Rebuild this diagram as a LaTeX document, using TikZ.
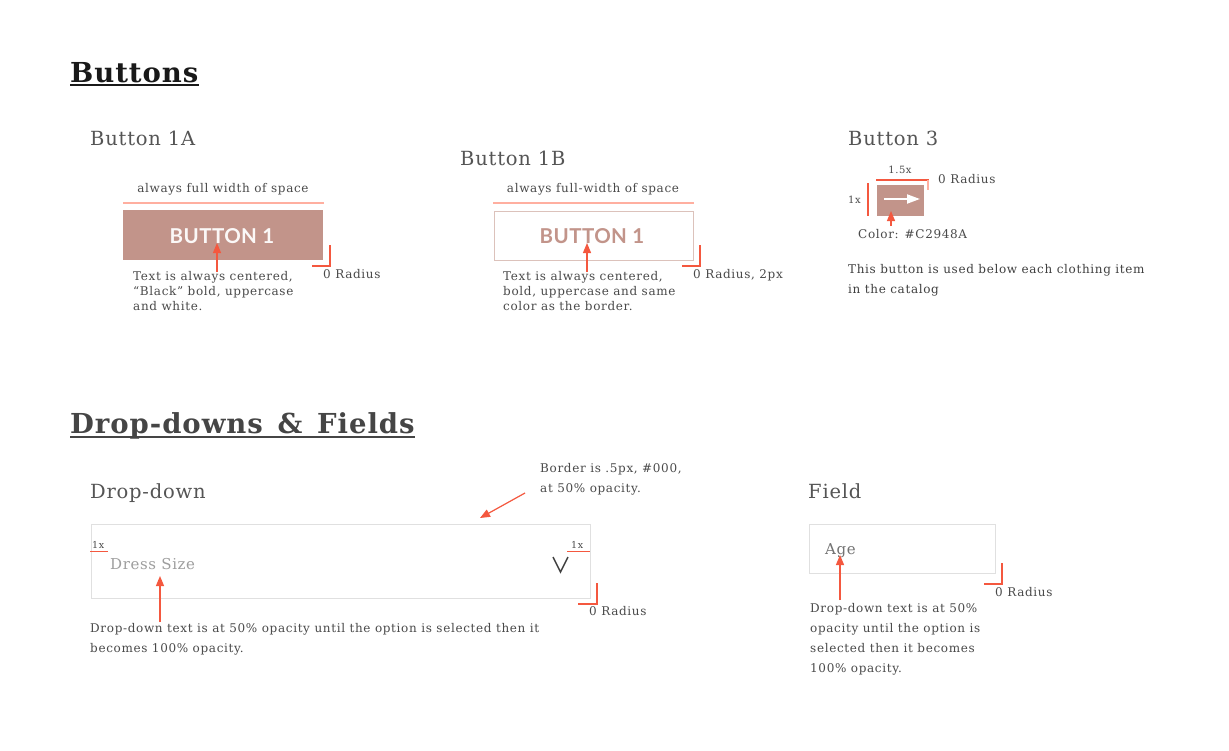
\documentclass[tikz,border=0pt]{standalone}
\usepackage{fontspec}
\setmainfont{DejaVu Serif}
\newfontfamily\latofont[LetterSpace=2]{Lato}
\newfontfamily\notefont[LetterSpace=5.5]{DejaVu Serif}
\newfontfamily\headfont[LetterSpace=4]{DejaVu Serif}
\newfontfamily\titlefont[LetterSpace=3.5,WordSpace=1.4]{DejaVu Serif}
\usetikzlibrary{arrows.meta}
\definecolor{rose}{HTML}{C2948A}
\definecolor{roseline}{HTML}{DCC2BB}
\definecolor{salmon}{HTML}{FFAFA0}
\definecolor{redmark}{HTML}{F4583F}
\definecolor{txt}{HTML}{4A4A4A}
\definecolor{head}{HTML}{555555}
\definecolor{fieldline}{HTML}{E0E0E0}
\tikzset{
  title/.style={anchor=base west, inner sep=0, font=\titlefont\fontsize{27.5}{30}\selectfont\bfseries},
  subhead/.style={anchor=base west, inner sep=0, text=head, font=\headfont\fontsize{19.5}{22}\selectfont},
  note/.style={anchor=base west, inner sep=0, text=txt, font=\notefont\fontsize{12}{14}\selectfont},
  small/.style={anchor=base west, inner sep=0, text=txt, font=\notefont\fontsize{10}{12}\selectfont},
  pointer/.style={draw=redmark, line width=1.2pt, -{Triangle[length=10pt,width=8pt]}},
  redrule/.style={draw=redmark, line width=1.2pt},
  widthline/.style={draw=salmon, line width=2pt},
}
\newcommand{\txtline}[4]{\node[note] (#1) at (#2,#3) {#4};}
\begin{document}
\begin{tikzpicture}[x=1pt,y=-1pt]
\useasboundingbox[fill=white] (0,0) rectangle (1229,750);

% ---------- Titles ----------
\node[title, text=black!90] (t1) at (70,82) {Buttons};
\draw[black!90, line width=2pt] (t1.base west) ++(0,3) coordinate (u1a) -- (t1.base east |- u1a);
\node[title, text=black!73] (t2) at (70,433) {Drop-downs \& Fields};
\draw[black!73, line width=2pt] (t2.base west) ++(0,4) coordinate (u2a) -- (t2.base east |- u2a);

% ---------- Button 1A ----------
\node[subhead] (h1a) at (90,145) {Button 1A};
\node[note, anchor=base] (w1a) at (223,192) {always full width of space};
\coordinate (w1al) at (123,203); \coordinate (w1ar) at (324,203);
\draw[widthline] (w1al) -- (w1ar);
\node[fill=rose, minimum width=200pt, minimum height=50pt, inner sep=0, anchor=north west] (b1a) at (123,210) {};
\node[text=white!93!rose, font=\latofont\bfseries\fontsize{20.5}{22}\selectfont, inner sep=0] (b1atext) at (222,236) {BUTTON 1};
\coordinate (p1a) at (217,272);
\draw[pointer] (p1a) -- (217,243) coordinate (p1ae);
\coordinate (r1a) at (330,245);
\draw[redrule] (r1a) -- (330,266) -- (312,266);
\node[note] (r1at) at (323,278) {0 Radius};
\txtline{d1a1}{133}{280}{Text is always centered,}
\txtline{d1a2}{133}{295}{“Black” bold, uppercase}
\txtline{d1a3}{133}{310}{and white.}

% ---------- Button 1B ----------
\node[subhead] (h1b) at (460,165) {Button 1B};
\node[note, anchor=base] (w1b) at (593,192) {always full-width of space};
\coordinate (w1bl) at (493,203); \coordinate (w1br) at (694,203);
\draw[widthline] (w1bl) -- (w1br);
\node[draw=roseline, line width=1.6pt, minimum width=199pt, minimum height=49pt, inner sep=0, anchor=north west] (b1b) at (493.5,210.5) {};
\node[text=rose, font=\latofont\bfseries\fontsize{20.5}{22}\selectfont, inner sep=0] (b1btext) at (592,236) {BUTTON 1};
\coordinate (p1b) at (587,272);
\draw[pointer] (p1b) -- (587,243) coordinate (p1be);
\coordinate (r1b) at (700,245);
\draw[redrule] (r1b) -- (700,266) -- (682,266);
\node[note] (r1bt) at (693,278) {0 Radius, 2px};
\txtline{d1b1}{503}{280}{Text is always centered,}
\txtline{d1b2}{503}{295}{bold, uppercase and same}
\txtline{d1b3}{503}{310}{color as the border.}

% ---------- Button 3 ----------
\node[subhead] (h3) at (848,145) {Button 3};
\node[small, anchor=base] (w3) at (900,173) {1.5x};
\coordinate (w3l) at (876,180); \coordinate (w3r) at (929,180);
\draw[redrule] (w3l) -- (w3r);
\draw[draw=salmon, line width=1.6pt] (928,180) -- (928,190);
\node[note] (r3t) at (938,183) {0 Radius};
\node[small] (h3x) at (848,203) {1x};
\coordinate (v3t) at (868,183); \coordinate (v3b) at (868,216);
\draw[redrule] (v3t) -- (v3b);
\node[fill=rose, minimum width=47pt, minimum height=31pt, inner sep=0, anchor=north west] (b3) at (877,185) {};
\coordinate (a3s) at (884,199); \coordinate (a3e) at (920,199);
\draw[white, line width=2pt, -{Triangle[length=13pt,width=9pt]}] (a3s) -- (a3e);
\coordinate (p3) at (891,226);
\draw[pointer] (p3) -- (891,211) coordinate (p3e);
\node[note] (c3) at (858,238) {Color: \#C2948A};
\node[note, text=black!75] (d31) at (848,273) {This button is used below each clothing item};
\node[note, text=black!75] (d32) at (848,293) {in the catalog};

% ---------- Drop-down ----------
\node[subhead] (hdd) at (90,498) {Drop-down};
\node[draw=fieldline, line width=1.5pt, minimum width=499pt, minimum height=74pt, inner sep=0, anchor=north west] (dd) at (90.5,523.5) {};
\node[small, font=\notefont\fontsize{9.5}{11}\selectfont] (ddx1) at (92,548) {1x};
\coordinate (ddu1l) at (90,551); \coordinate (ddu1r) at (108,551);
\draw[redrule, line width=1pt] (ddu1l) -- (ddu1r);
\node[small, font=\notefont\fontsize{9.5}{11}\selectfont] (ddx2) at (571,548) {1x};
\coordinate (ddu2l) at (567,551); \coordinate (ddu2r) at (590,551);
\draw[redrule, line width=1pt] (ddu2l) -- (ddu2r);
\node[anchor=base west, inner sep=0, text=black!38, font=\headfont\fontsize{15}{18}\selectfont] (dds) at (110,569) {Dress Size};
\coordinate (chl) at (553,557); \coordinate (chm) at (560.5,572); \coordinate (chr) at (568,557);
\draw[black!75, line width=1.5pt] (chl) -- (chm) -- (chr);
\coordinate (pdd) at (160,622);
\draw[pointer] (pdd) -- (160,576) coordinate (pdde);
\coordinate (rdd) at (597,583);
\draw[redrule] (rdd) -- (597,604) -- (578,604);
\node[note] (rddt) at (589,615) {0 Radius};
\node[note] (bdd1) at (540,472) {Border is .5px, \#000,};
\node[note] (bdd2) at (540,492) {at 50\% opacity.};
\coordinate (bdds) at (525,493);
\draw[pointer] (bdds) -- (480,518) coordinate (bdde);
\txtline{ddd1}{90}{632}{Drop-down text is at 50\% opacity until the option is selected then it}
\txtline{ddd2}{90}{652}{becomes 100\% opacity.}

% ---------- Field ----------
\node[subhead] (hf) at (808,498) {Field};
\node[draw=fieldline, line width=1.5pt, minimum width=186pt, minimum height=49pt, inner sep=0, anchor=north west] (fld) at (808.5,523.5) {};
\node[anchor=base west, inner sep=0, text=black!55, font=\headfont\fontsize{15}{18}\selectfont] (age) at (825,554) {Age};
\coordinate (pf) at (840,600);
\draw[pointer] (pf) -- (840,555) coordinate (pfe);
\coordinate (rf) at (1002,563);
\draw[redrule] (rf) -- (1002,584) -- (984,584);
\node[note] (rft) at (995,596) {0 Radius};
\txtline{fd1}{810}{612}{Drop-down text is at 50\%}
\txtline{fd2}{810}{632}{opacity until the option is}
\txtline{fd3}{810}{652}{selected then it becomes}
\txtline{fd4}{810}{672}{100\% opacity.}
\end{tikzpicture}
\end{document}
